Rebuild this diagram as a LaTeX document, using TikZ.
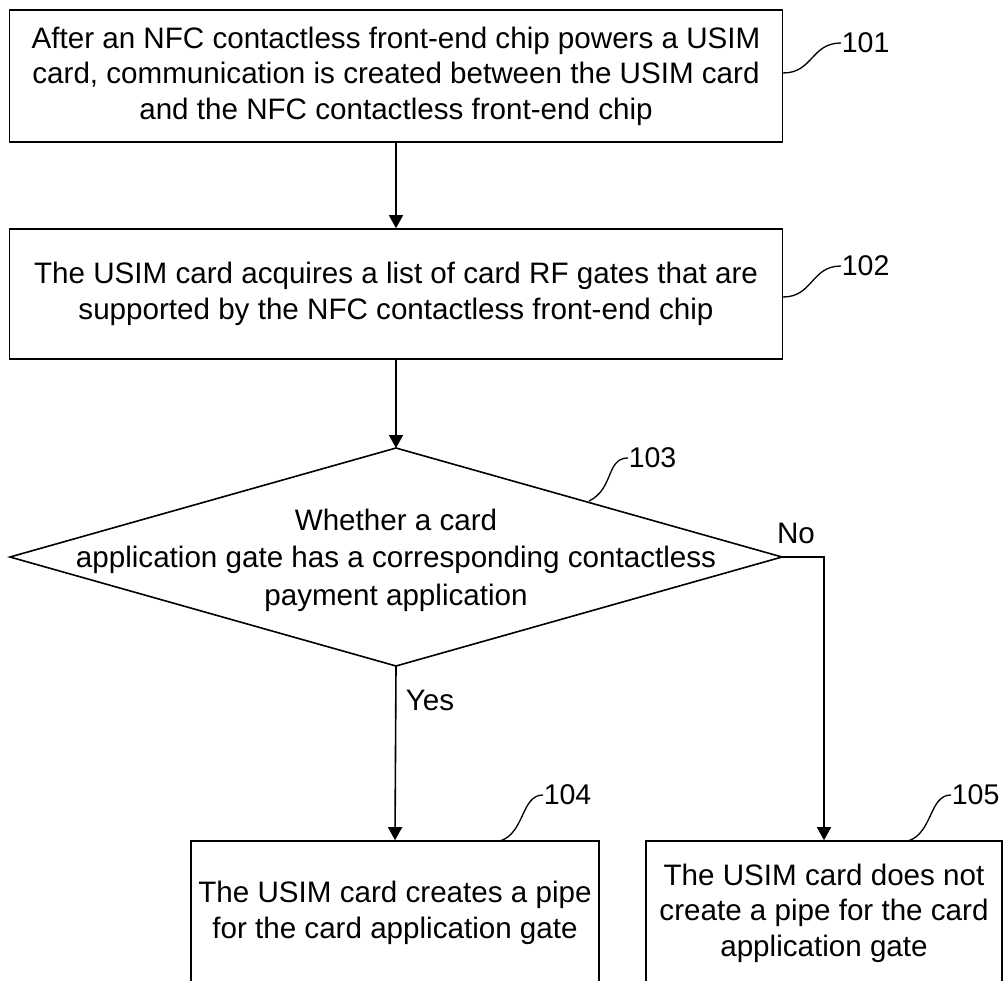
\documentclass[tikz,border=0pt]{standalone}
\usepackage{fontspec}
\setmainfont{Liberation Sans}
\usetikzlibrary{arrows.meta}

\begin{document}
\begin{tikzpicture}[x=1pt, y=-1pt, line width=1.6pt,
    every node/.style={font=\fontsize{29.6}{35.5}\selectfont},
    stepbox/.style={draw, align=center, inner sep=0pt},
    flow/.style={-{Triangle[width=14pt,length=13pt]}},
    leader/.style={line width=1.3pt},
    refnum/.style={anchor=west, inner sep=0pt, font=\fontsize{28.5}{34}\selectfont}]

    % page frame, bottom boxes run past it
    \useasboundingbox (0,0) rectangle (1004,981);
    \clip (0,0) rectangle (1004,981);

    % process boxes
    \node[stepbox, minimum width=773pt, minimum height=132pt] (s101) at (396,76)
        {After an NFC contactless front-end chip powers a USIM\\
         card, communication is created between the USIM card\\
         and the NFC contactless front-end chip};
    \node[stepbox, minimum width=773pt, minimum height=130pt] (s102) at (396,294)
        {The USIM card acquires a list of card RF gates that are\\
         supported by the NFC contactless front-end chip};

    % decision diamond
    \coordinate (dtop) at (396,448);
    \coordinate (dleft) at (10,557);
    \coordinate (dright) at (782,557);
    \coordinate (dbot) at (396,666);
    \draw (dtop) -- (dright) -- (dbot) -- (dleft) -- cycle;
    \node[align=center, inner sep=0pt] (q103) at (396,560)
        {Whether a card\\[2pt]
         application gate has a corresponding contactless\\[2pt]
         payment application};

    \node[stepbox, minimum width=408pt, minimum height=144pt] (s104) at (395,913)
        {The USIM card creates a pipe\\
         for the card application gate};
    \node[stepbox, minimum width=356pt, minimum height=144pt] (s105) at (824,913)
        {The USIM card does not\\
         create a pipe for the card\\
         application gate};

    % connectors
    \draw[flow] (s101.south) -- (s102.north);
    \draw[flow] (s102.south) -- (dtop);
    \draw[flow] (dbot) -- (s104.north);
    \draw[flow] (dright) -| (s105.north);
    \node[inner sep=0pt] (yes) at (430,700) {Yes};
    \node[inner sep=0pt] (no) at (796,533) {No};

    % reference numerals
    \node[refnum] (n101) at (841,43) {101};
    \node[refnum] (n102) at (841,266) {102};
    \node[refnum] (n103) at (628,458) {103};
    \node[refnum] (n104) at (543,795) {104};
    \node[refnum] (n105) at (951,795) {105};

    \coordinate (a101) at (783,73);
    \coordinate (a102) at (783,297);
    \coordinate (a103) at (589,501);
    \coordinate (a104) at (500,841);
    \coordinate (a105) at (908,841);

    \draw[leader] (a101) .. controls +(30,0) and +(-30,0) .. (n101.west);
    \draw[leader] (a102) .. controls +(30,0) and +(-30,0) .. (n102.west);
    \draw[leader] (a103) .. controls +(25,-12) and +(-22,0) .. (n103.west);
    \draw[leader] (a104) .. controls +(25,-8) and +(-22,0) .. (n104.west);
    \draw[leader] (a105) .. controls +(25,-8) and +(-22,0) .. (n105.west);

\end{tikzpicture}
\end{document}
